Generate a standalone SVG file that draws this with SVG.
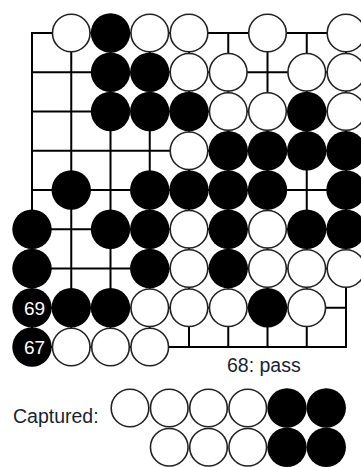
<svg xmlns="http://www.w3.org/2000/svg" width="361" height="467" viewBox="0 0 361 467">
<style>
.grid line{stroke:#000;stroke-width:2;stroke-linecap:square}
.w{fill:#fff;stroke:#222;stroke-width:1.6}
.b{fill:#000}
.lbl{font-family:"Liberation Sans",Arial,sans-serif;font-size:19px;fill:#fff;text-anchor:middle}
.txt{font-family:"Liberation Sans",Arial,sans-serif;font-size:19.5px;fill:#1a1f33}
</style>
<defs>
<circle id="W" r="18.8" class="w"/>
<circle id="B" r="19.7" class="b"/>
</defs>
<rect width="361" height="467" fill="#fff"/>
<g id="board" class="grid">
<line x1="32" y1="33" x2="346" y2="33"/>
<line x1="32" y1="72.25" x2="346" y2="72.25"/>
<line x1="32" y1="111.5" x2="346" y2="111.5"/>
<line x1="32" y1="150.75" x2="346" y2="150.75"/>
<line x1="32" y1="190" x2="346" y2="190"/>
<line x1="32" y1="229.25" x2="346" y2="229.25"/>
<line x1="32" y1="268.5" x2="346" y2="268.5"/>
<line x1="32" y1="307.75" x2="346" y2="307.75"/>
<line x1="32" y1="347" x2="346" y2="347"/>
<line x1="32" y1="33" x2="32" y2="347"/>
<line x1="71.25" y1="33" x2="71.25" y2="347"/>
<line x1="110.5" y1="33" x2="110.5" y2="347"/>
<line x1="149.75" y1="33" x2="149.75" y2="347"/>
<line x1="189" y1="33" x2="189" y2="347"/>
<line x1="228.25" y1="33" x2="228.25" y2="347"/>
<line x1="267.5" y1="33" x2="267.5" y2="347"/>
<line x1="306.75" y1="33" x2="306.75" y2="347"/>
<line x1="346" y1="33" x2="346" y2="347"/>
</g>
<g id="stones">
<!-- row 0 -->
<use href="#W" x="71.25" y="33"/>
<use href="#B" x="110.5" y="33"/>
<use href="#W" x="149.75" y="33"/>
<use href="#W" x="189" y="33"/>
<use href="#W" x="267.5" y="33"/>
<use href="#W" x="346" y="33"/>
<!-- row 1 -->
<use href="#B" x="110.5" y="72.25"/>
<use href="#B" x="149.75" y="72.25"/>
<use href="#W" x="189" y="72.25"/>
<use href="#W" x="228.25" y="72.25"/>
<use href="#W" x="306.75" y="72.25"/>
<use href="#W" x="346" y="72.25"/>
<!-- row 2 -->
<use href="#B" x="110.5" y="111.5"/>
<use href="#B" x="149.75" y="111.5"/>
<use href="#B" x="189" y="111.5"/>
<use href="#W" x="228.25" y="111.5"/>
<use href="#W" x="267.5" y="111.5"/>
<use href="#B" x="306.75" y="111.5"/>
<use href="#W" x="346" y="111.5"/>
<!-- row 3 -->
<use href="#W" x="189" y="150.75"/>
<use href="#B" x="228.25" y="150.75"/>
<use href="#B" x="267.5" y="150.75"/>
<use href="#B" x="306.75" y="150.75"/>
<use href="#B" x="346" y="150.75"/>
<!-- row 4 -->
<use href="#B" x="71.25" y="190"/>
<use href="#B" x="149.75" y="190"/>
<use href="#B" x="189" y="190"/>
<use href="#B" x="228.25" y="190"/>
<use href="#B" x="267.5" y="190"/>
<use href="#B" x="346" y="190"/>
<!-- row 5 -->
<use href="#B" x="32" y="229.25"/>
<use href="#B" x="110.5" y="229.25"/>
<use href="#B" x="149.75" y="229.25"/>
<use href="#W" x="189" y="229.25"/>
<use href="#B" x="228.25" y="229.25"/>
<use href="#W" x="267.5" y="229.25"/>
<use href="#B" x="306.75" y="229.25"/>
<use href="#B" x="346" y="229.25"/>
<!-- row 6 -->
<use href="#B" x="32" y="268.5"/>
<use href="#B" x="149.75" y="268.5"/>
<use href="#W" x="189" y="268.5"/>
<use href="#B" x="228.25" y="268.5"/>
<use href="#W" x="267.5" y="268.5"/>
<use href="#W" x="306.75" y="268.5"/>
<use href="#W" x="346" y="268.5"/>
<!-- row 7 -->
<use href="#B" x="32" y="307.75"/>
<use href="#B" x="71.25" y="307.75"/>
<use href="#B" x="110.5" y="307.75"/>
<use href="#W" x="149.75" y="307.75"/>
<use href="#W" x="189" y="307.75"/>
<use href="#W" x="228.25" y="307.75"/>
<use href="#B" x="267.5" y="307.75"/>
<use href="#W" x="306.75" y="307.75"/>
<!-- row 8 -->
<use href="#B" x="32" y="347"/>
<use href="#W" x="71.25" y="347"/>
<use href="#W" x="110.5" y="347"/>
<use href="#W" x="149.75" y="347"/>
</g>
<g id="move-labels">
<text class="lbl" x="34.5" y="314.5">69</text>
<text class="lbl" x="34.5" y="354">67</text>
</g>
<text id="pass" class="txt" x="227" y="372">68: pass</text>
<g id="captured">
<text class="txt" x="13" y="423">Captured:</text>
<use href="#W" x="130" y="408"/>
<use href="#W" x="169.25" y="408"/>
<use href="#W" x="208.5" y="408"/>
<use href="#W" x="247.75" y="408"/>
<use href="#B" x="287" y="408"/>
<use href="#B" x="326.25" y="408"/>
<use href="#W" x="169.25" y="447.25"/>
<use href="#W" x="208.5" y="447.25"/>
<use href="#W" x="247.75" y="447.25"/>
<use href="#B" x="287" y="447.25"/>
<use href="#B" x="326.25" y="447.25"/>
</g>
</svg>
